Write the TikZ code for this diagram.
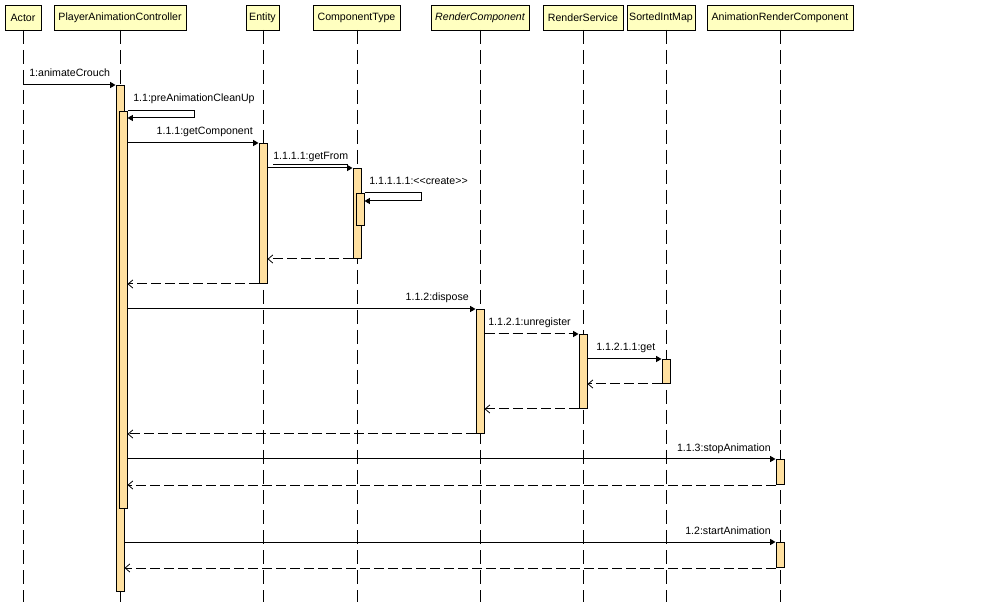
\documentclass[tikz,border=0pt]{standalone}
\usepackage{fontspec}
\setmainfont{Liberation Sans}
\usetikzlibrary{arrows.meta}
\definecolor{hdrc}{HTML}{FFFFC0}
\definecolor{actc}{HTML}{FFE0A0}
\begin{document}
\begin{tikzpicture}[x=0.75pt,y=-0.75pt,
  font=\fontsize{7.95}{10}\selectfont,
  hdr/.style={draw, fill=hdrc, line width=0.75pt, minimum height=18.75pt, inner sep=0pt, anchor=north, minimum width=#1*0.75pt},
  life/.style={line width=0.75pt, dash pattern=on 10.5pt off 4.5pt},
  act/.style={draw, fill=actc, line width=0.75pt, minimum width=6pt, inner sep=0pt, anchor=north, minimum height=#1*0.75pt},
  msg/.style={line width=0.75pt, -{Triangle[length=4pt,width=4.5pt]}},
  amsg/.style={msg, dash pattern=on 7.5pt off 3pt},
  ret/.style={line width=0.75pt, dash pattern=on 7.5pt off 3pt, -{Straight Barb[length=3.5pt,width=6pt,line width=0.6pt]}},
  lbl/.style={inner sep=0pt, anchor=base west},
  lblr/.style={inner sep=0pt, anchor=base east}
]
\useasboundingbox (0,0) rectangle (1004,602);
% headers
\node[hdr=36] (actor) at (23,5) {Actor};
\node[hdr=132] (pac) at (120,5) {PlayerAnimationController};
\node[hdr=33] (ent) at (262.5,5) {Entity};
\node[hdr=87] (ct) at (356.5,5) {ComponentType};
\node[hdr=98] (rc) at (480,5) {\itshape RenderComponent};
\node[hdr=80] (rs) at (583,5) {RenderService};
\node[hdr=68] (sim) at (661,5) {SortedIntMap};
\node[hdr=146] (arc) at (780,5) {AnimationRenderComponent};
% lifelines
\foreach \n/\x in {actor/23,pac/120,ent/263,ct/357,rc/480,rs/583,sim/666,arc/780}
  \draw[life] (\x,30) -- (\x,602);
% activations
\node[act=506] (pac1) at (120,85) {};
\node[act=397] (pac2) at (123,111) {};
\node[act=140] (ent1) at (263,143) {};
\node[act=90] (ct1) at (357,168) {};
\node[act=32] (ct2) at (360,193) {};
\node[act=124] (rc1) at (480,309) {};
\node[act=74] (rs1) at (583,334) {};
\node[act=24] (sim1) at (666,359) {};
\node[act=25] (arc1) at (780,459) {};
\node[act=25] (arc2) at (780,542) {};
% messages
\draw[msg] (actor.south |- pac1.north) -- (pac1.north west);
\node[lbl] (l1) at (29,77) {1:animateCrouch};
\draw[msg] (pac2.north east) -- ++(67,0) -- ++(0,7) -- ++(-67,0);
\node[lbl] (l2) at (133,102) {1.1:preAnimationCleanUp};
\draw[msg] (pac2.east |- ent1.north) -- (ent1.north west);
\node[lblr] (l3) at (253,135) {1.1.1:getComponent};
\draw[msg] (ent1.east |- ct1.north) -- (ct1.north west);
\node[lbl] (l4) at (273,160) {\underline{1.1.1.1:getFrom}};
\draw[msg] (ct2.north east) -- ++(57,0) -- ++(0,8) -- ++(-57,0);
\node[lbl] (l5) at (369,185) {1.1.1.1.1:<{}<create>{}>};
\draw[ret] (ct1.south west) -- (ent1.east |- ct1.south);
\draw[ret] (ent1.south west) -- (pac2.east |- ent1.south);
\draw[msg] (pac2.east |- rc1.north) -- (rc1.north west);
\node[lblr] (l6) at (469,301) {1.1.2:dispose};
\draw[amsg] (rc1.east |- rs1.north) -- (rs1.north west);
\node[lbl] (l7) at (488,326) {1.1.2.1:unregister};
\draw[msg] (rs1.east |- sim1.north) -- (sim1.north west);
\node[lbl] (l8) at (596,351) {1.1.2.1.1:get};
\draw[ret] (sim1.south west) -- (rs1.east |- sim1.south);
\draw[ret] (rs1.south west) -- (rc1.east |- rs1.south);
\draw[ret] (rc1.south west) -- (pac2.east |- rc1.south);
\draw[msg] (pac2.east |- arc1.north) -- (arc1.north west);
\node[lblr] (l9) at (771,451) {1.1.3:stopAnimation};
\draw[ret] (arc1.south west) -- (pac2.east |- arc1.south);
\draw[msg] (pac1.east |- arc2.north) -- (arc2.north west);
\node[lblr] (l10) at (771,534) {1.2:startAnimation};
\draw[ret] (arc2.south west) -- (pac1.east |- arc2.south);
\end{tikzpicture}
\end{document}
